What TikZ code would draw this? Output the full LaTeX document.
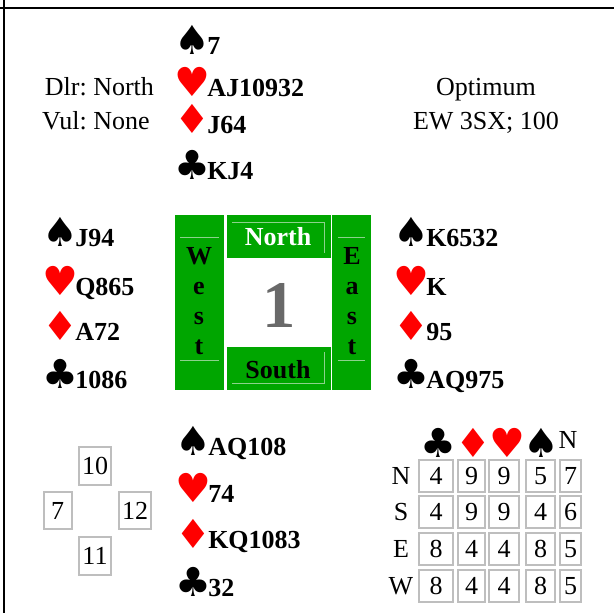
\documentclass[tikz,border=0pt]{standalone}
\usepackage{fontspec}
\setmainfont{Liberation Serif}
\newfontfamily\suitfont{DejaVu Sans}
\definecolor{feltgreen}{RGB}{0,166,0}
\definecolor{edgegray}{RGB}{190,190,190}
\definecolor{rimgreen}{RGB}{140,210,140}
\definecolor{onegray}{RGB}{105,105,105}
\newcommand{\spd}{\textcolor{black}{\symbol{"2660}}}
\newcommand{\hrt}{\textcolor{red}{\symbol{"2665}}}
\newcommand{\dmd}{\textcolor{red}{\symbol{"2666}}}
\newcommand{\clb}{\textcolor{black}{\symbol{"2663}}}
\tikzset{txt/.style={inner sep=0pt, font=\fontsize{19.5}{23}\selectfont},
 hold/.style={txt, font=\fontsize{19.5}{23}\selectfont\bfseries, anchor=base west},
 suit/.style={inner ysep=0pt, inner xsep=-2.4pt, anchor=base west, font=\fontsize{30}{30}\suitfont},
 numbox/.style={txt, draw=edgegray, line width=1.5pt, minimum height=28pt, minimum width=21pt, inner xsep=2.5pt},
 cell/.style={txt, draw=edgegray, line width=1.5pt, minimum height=24pt},
 rim/.style={draw=rimgreen, line width=0.6pt}}

\begin{document}
\begin{tikzpicture}[x=0.75pt,y=-0.75pt]
\useasboundingbox (0,0) rectangle (614,613);
% frame
\draw[line width=2pt] (0,8) -- (614,8);
\draw[line width=2pt] (4,0) -- (4,613);

% deal info
\node[txt, anchor=base east] (dlr) at (87,96) {Dlr:};
\node[txt, anchor=base west] (dlrv) at (93,96) {North};
\node[txt, anchor=base east] (vul) at (87,130) {Vul:};
\node[txt, anchor=base west] (vulv) at (93,130) {None};
\node[txt, anchor=base] (opt) at (486,96) {Optimum};
\node[txt, anchor=base] (optv) at (486,130) {EW 3SX; 100};

% hands
\foreach \s/\b/\h [count=\i] in {\spd/55/7,\hrt/97/AJ10932,\dmd/134/J64,\clb/180/KJ4}
 { \node[suit] (ns\i) at (177,\b) {\s}; \node[hold] (nh\i) at (ns\i.base east) {\h}; }
\foreach \s/\b/\h [count=\i] in {\spd/247/J94,\hrt/295/Q865,\dmd/340/A72,\clb/388/1086}
 { \node[suit] (ws\i) at (45,\b) {\s}; \node[hold] (wh\i) at (ws\i.base east) {\h}; }
\foreach \s/\b/\h [count=\i] in {\spd/247/K6532,\hrt/295/K,\dmd/340/95,\clb/388/AQ975}
 { \node[suit] (es\i) at (396,\b) {\s}; \node[hold] (eh\i) at (es\i.base east) {\h}; }
\foreach \s/\b/\h [count=\i] in {\spd/455/AQ108,\hrt/502/74,\dmd/548/KQ1083,\clb/596/32}
 { \node[suit] (ss\i) at (178,\b) {\s}; \node[hold] (sh\i) at (ss\i.base east) {\h}; }

% compass
\fill[feltgreen] (175,215) rectangle (224,390);
\fill[feltgreen] (227,215) rectangle (331,258);
\fill[feltgreen] (227,347) rectangle (331,390);
\fill[feltgreen] (332,215) rectangle (371,390);
\draw[rim] (232,222) -- (324,222) -- (324,253);
\draw[rim] (324,352) -- (324,383) -- (232,383);
\draw[rim] (180,237) -- (219,237) (180,360) -- (219,360);
\draw[rim] (338,237) -- (365,237) (338,360) -- (365,360);
\node[txt, font=\fontsize{19.5}{23}\selectfont\bfseries, text=white, anchor=base] (north) at (278,245) {North};
\node[txt, font=\fontsize{19.5}{23}\selectfont\bfseries, anchor=base] (south) at (278,378) {South};
\node[inner sep=0pt, font=\fontsize{50}{50}\selectfont\bfseries, text=onegray, anchor=base] (board) at (279,327) {1};
\foreach \l [count=\i] in {W,e,s,t}
 \node[txt, font=\fontsize{19.5}{23}\selectfont\bfseries, anchor=base] (west\i) at (199,234+30*\i) {\l};
\foreach \l [count=\i] in {E,a,s,t}
 \node[txt, font=\fontsize{19.5}{23}\selectfont\bfseries, anchor=base] (east\i) at (352,234+30*\i) {\l};

% tricks per seat
\node[numbox] (bn) at (95,466) {10};
\node[numbox] (bw) at (57.5,510.5) {7};
\node[numbox] (be) at (135,510.5) {12};
\node[numbox] (bs) at (95,556) {11};

% double dummy table
\foreach \s/\x [count=\i] in {\clb/438,\dmd/473.5,\hrt/507,\spd/541.5}
 \node[suit, anchor=base] (hd\i) at (\x,457) {\s};
\node[txt, anchor=base] (hdn) at (568,448) {N};
\foreach \r/\y/\vals in {N/476/{4,9,9,5,7},S/512/{4,9,9,4,6},E/549/{8,4,4,8,5},W/586/{8,4,4,8,5}} {
 \node[txt] (row\r) at (401,\y) {\r};
 \foreach \v [count=\c] in \vals {
  \pgfmathsetmacro\cx{{436,471.5,504,540.5,570.5}[\c-1]}
  \pgfmathsetmacro\cw{{36,29,32,31,23}[\c-1]}
  \node[cell, minimum width=\cw*0.75pt-1.5pt] (dd\r\c) at (\cx,\y) {\v};
 }
}
\end{tikzpicture}
\end{document}
